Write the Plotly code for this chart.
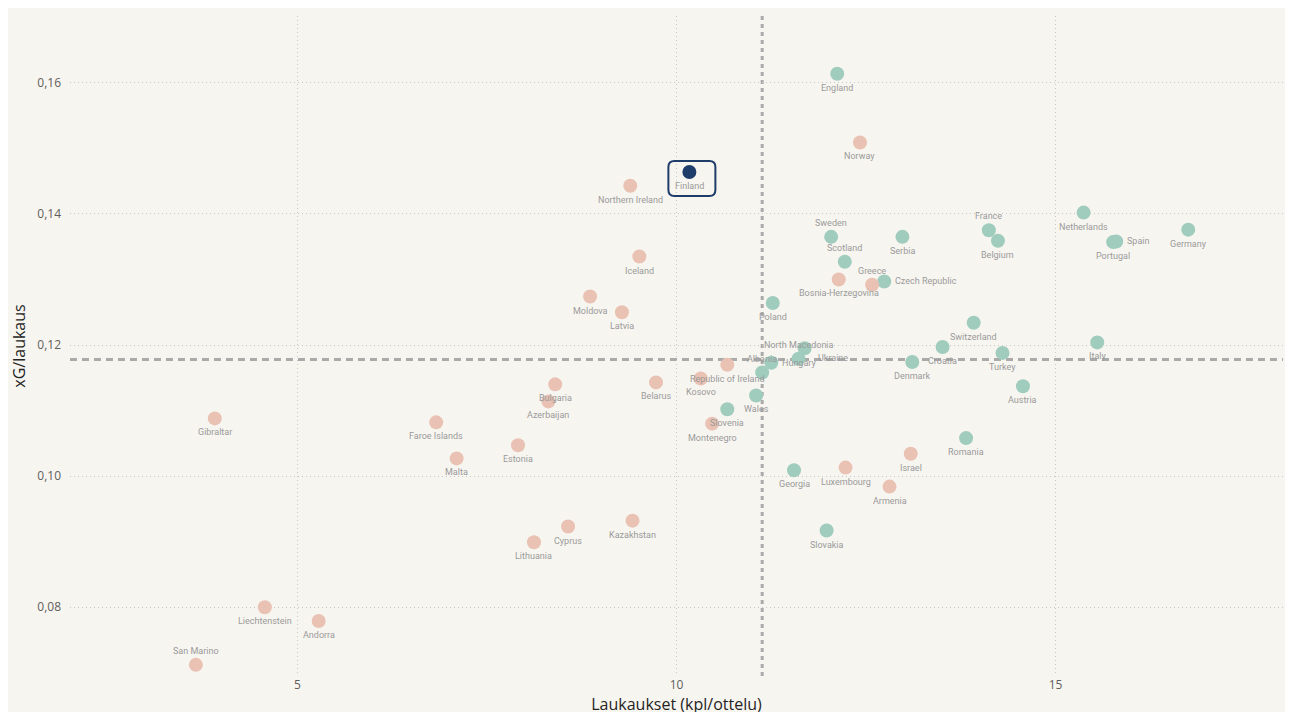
import plotly.graph_objects as go

# ---------------- data ----------------
countries = [
    "England", "Norway", "Finland", "Northern Ireland", "Netherlands", "France",
    "Belgium", "Germany", "Spain", "Portugal", "Sweden", "Serbia", "Scotland",
    "Greece", "Bosnia-Herzegovina", "Czech Republic", "Poland", "Iceland",
    "Moldova", "Latvia", "Switzerland", "Italy", "Croatia", "Turkey", "Denmark",
    "Austria", "North Macedonia", "Ukraine", "Hungary", "Albania", "Wales",
    "Slovenia", "Montenegro", "Kosovo", "Republic of Ireland", "Belarus",
    "Bulgaria", "Azerbaijan", "Faroe Islands", "Malta", "Estonia", "Cyprus",
    "Kazakhstan", "Lithuania", "Gibraltar", "Liechtenstein", "Andorra",
    "San Marino", "Georgia", "Luxembourg", "Israel", "Romania", "Armenia",
    "Slovakia",
]
shots_per_match = [
    12.12, 12.42, 10.17, 9.39, 15.37, 14.12,
    14.24, 16.75, 15.80, 15.76, 12.04, 12.98, 12.22,
    12.58, 12.14, 12.74, 11.27, 9.51,
    8.86, 9.28, 13.92, 15.55, 13.51, 14.30, 13.11,
    14.57, 11.61, 11.69, 11.25, 11.13, 11.05,
    10.67, 10.47, 10.32, 10.67, 9.73,
    8.40, 8.31, 6.83, 7.10, 7.91, 8.57,
    9.42, 8.12, 3.91, 4.57, 5.28,
    3.66, 11.55, 12.23, 13.09, 13.82, 12.81,
    11.98,
]
xg_per_shot = [
    0.1614, 0.1509, 0.1464, 0.1443, 0.1402, 0.1375,
    0.1359, 0.1376, 0.1358, 0.1357, 0.1365, 0.1365, 0.1327,
    0.1292, 0.1300, 0.1297, 0.1264, 0.1335,
    0.1274, 0.1250, 0.1234, 0.1204, 0.1197, 0.1188, 0.1174,
    0.1137, 0.1179, 0.1195, 0.1173, 0.1158, 0.1123,
    0.1102, 0.1080, 0.1149, 0.1170, 0.1143,
    0.1140, 0.1114, 0.1082, 0.1027, 0.1047, 0.0923,
    0.0932, 0.0899, 0.1088, 0.0800, 0.0779,
    0.0712, 0.1009, 0.1013, 0.1034, 0.1058, 0.0984,
    0.0917,
]
groups = [
    "teal", "salmon", "finland", "salmon", "teal", "teal",
    "teal", "teal", "teal", "teal", "teal", "teal", "teal",
    "salmon", "salmon", "teal", "teal", "salmon",
    "salmon", "salmon", "teal", "teal", "teal", "teal", "teal",
    "teal", "teal", "teal", "teal", "teal", "teal",
    "teal", "salmon", "salmon", "salmon", "salmon",
    "salmon", "salmon", "salmon", "salmon", "salmon", "salmon",
    "salmon", "salmon", "salmon", "salmon", "salmon",
    "salmon", "teal", "salmon", "salmon", "teal", "salmon",
    "teal",
]
x_ticks = [5, 10, 15]
y_ticks = [0.08, 0.10, 0.12, 0.14, 0.16]
x_reference = 11.13     # vertical dashed reference line
y_reference = 0.1178    # horizontal dashed reference line

# ---------------- styles ----------------
GROUP_COLORS = {"teal": "#a0ccbe", "salmon": "#e9c2b3", "finland": "#1f3d6b"}
BG = "#f7f5f0"
LABEL_COLOR = "#9a9a9a"

# label placement (default: below the point)
LABEL_PLACE = {
    "France": "above", "Sweden": "above", "Scotland": "above", "Greece": "above",
    "San Marino": "above", "North Macedonia": "above", "Albania": "above",
    "Spain": "right", "Czech Republic": "right", "Hungary": "right",
    "Ukraine": "right_low",
}

fig = go.Figure()

for g in ["teal", "salmon", "finland"]:
    xs = [x for x, gg in zip(shots_per_match, groups) if gg == g]
    ys = [y for y, gg in zip(xg_per_shot, groups) if gg == g]
    names = [c for c, gg in zip(countries, groups) if gg == g]
    fig.add_trace(go.Scatter(
        x=xs, y=ys, mode="markers", name=g, text=names,
        marker=dict(size=14, color=GROUP_COLORS[g], line=dict(width=0)),
        hovertemplate="%{text}<br>%{x:.2f}<br>%{y:.3f}<extra></extra>",
        showlegend=False,
    ))

for c, x, y in zip(countries, shots_per_match, xg_per_shot):
    place = LABEL_PLACE.get(c, "below")
    kw = dict(xanchor="center", yanchor="middle", xshift=0, yshift=-14)
    if place == "above":
        kw.update(yshift=14)
    elif place == "right":
        kw.update(xanchor="left", xshift=9, yshift=0)
    elif place == "right_low":
        kw.update(xanchor="left", xshift=11, yshift=-10)
    fig.add_annotation(
        x=x, y=y, text=c, showarrow=False,
        font=dict(family="Roboto, Open Sans, sans-serif", size=9, color=LABEL_COLOR),
        **kw,
    )

# reference lines
fig.add_shape(type="line", xref="x", yref="paper", x0=x_reference, x1=x_reference,
              y0=0, y1=1, line=dict(color="#aaaaaa", width=3, dash="4px,4px"),
              layer="below")
fig.add_shape(type="line", xref="paper", yref="y", x0=0, x1=1,
              y0=y_reference, y1=y_reference,
              line=dict(color="#aaaaaa", width=3, dash="7px,5px"), layer="below")

# highlight box around Finland
fi = countries.index("Finland")
fig.add_shape(
    type="path", xref="x", yref="y",
    xsizemode="pixel", ysizemode="pixel",
    xanchor=shots_per_match[fi], yanchor=xg_per_shot[fi],
    path="M -15 11 L 20 11 Q 26 11 26 5 L 26 -18 Q 26 -24 20 -24 "
         "L -15 -24 Q -21 -24 -21 -18 L -21 5 Q -21 11 -15 11 Z",
    line=dict(color="#1f3d6b", width=2), fillcolor="rgba(0,0,0,0)",
)

fig.update_layout(
    width=1293, height=712,
    margin=dict(l=62, r=18, t=8, b=44),
    paper_bgcolor=BG,
    plot_bgcolor=BG,
    separators=", ",
    font=dict(family="Open Sans, sans-serif", color="#605e5c"),
    xaxis=dict(
        range=[2, 18], tickvals=x_ticks, ticktext=[str(v) for v in x_ticks],
        showgrid=True, gridcolor="#c8c8c8", griddash="1px,3px", gridwidth=1,
        zeroline=False, showline=False, ticks="", automargin=False,
        tickfont=dict(size=12, color="#605e5c"),
        title=dict(text="Laukaukset (kpl/ottelu)", standoff=6,
                   font=dict(size=16, color="#252423")),
    ),
    yaxis=dict(
        range=[0.0695, 0.1702], tickvals=y_ticks, tickformat=".2f",
        showgrid=True, gridcolor="#c8c8c8", griddash="1px,3px", gridwidth=1,
        zeroline=False, showline=False, ticks="", automargin=False,
        ticklabelstandoff=8,
        tickfont=dict(size=12, color="#605e5c"),
        title=dict(text="xG/laukaus", standoff=8,
                   font=dict(size=16, color="#252423")),
    ),
)

fig.write_html("out.html",
               post_script="document.body.style.overflow='hidden';")
